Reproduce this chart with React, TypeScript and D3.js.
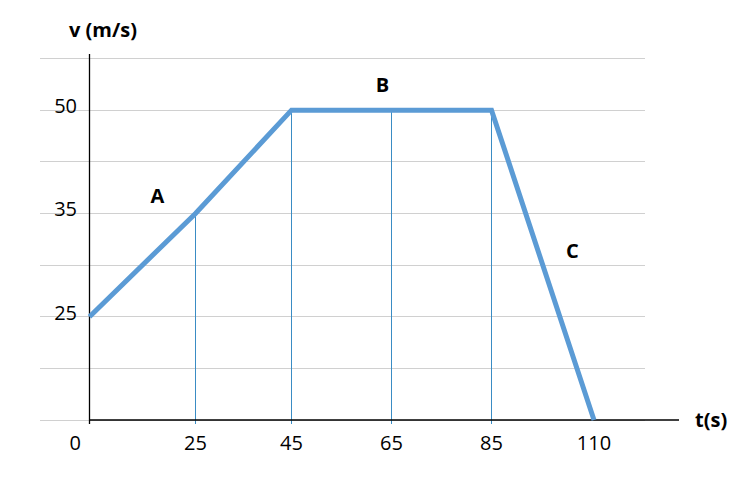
import * as d3 from "d3";

// velocity-time graph, values
const tValues = [0, 25, 45, 85, 110];
const vValues = [25, 35, 50, 50, 0];

const xTicks = [0, 25, 45, 65, 85, 110];
const xTickLabels = ["0", "25", "45", "65", "85", "110"];
const yTicks = [25, 35, 50];
const yTickLabels = ["25", "35", "50"];

// drop lines from the curve down to the t axis
const dropT = [25, 45, 65, 85];
const dropV = [35, 50, 50, 50];

// segment names, placed in data units
const segNames = ["A", "B", "C"];
const segT = [16, 63.2, 104.7];
const segV = [36.5, 52.6, 30.7];

const W = 742;
const H = 487;
const font = "'Open Sans', 'Liberation Sans', sans-serif";

// snap a 1px line onto the pixel grid
const crisp = (v: number) => Math.round(v - 0.5) + 0.5;

export default function App() {
  // the axes are drawn schematic: ticks are spaced evenly, not by value
  const x = d3
    .scaleLinear()
    .domain(xTicks)
    .range([89.5, 195.5, 291.5, 391.5, 491.5, 594]);

  const grid = d3.scaleLinear().domain([0, 7]).range([420, 58.5]);
  const y = d3
    .scaleLinear()
    .domain([0, 25, 35, 50])
    .range([0, 2, 4, 6].map(grid));

  const gridLevels = d3.range(0, 8);

  const points = tValues.map((t, i) => [t, vValues[i]] as [number, number]);
  const line = d3
    .line<[number, number]>()
    .x((d) => x(d[0]))
    .y((d) => y(d[1]));

  const x0 = x(0);
  const y0 = y(0);

  return (
    <div style={{ position: "absolute", left: 0, top: 0 }}>
      <svg width={W} height={H} style={{ display: "block", background: "#fff" }}>
        {/* horizontal grid */}
        {gridLevels.map((l) => (
          <line
            key={l}
            x1={40}
            x2={645}
            y1={crisp(grid(l))}
            y2={crisp(grid(l))}
            stroke="#d0d0d0"
            strokeWidth={1}
          />
        ))}

        {/* drop lines */}
        {dropT.map((t, i) => (
          <line
            key={t}
            x1={crisp(x(t))}
            x2={crisp(x(t))}
            y1={y(dropV[i])}
            y2={y0 + 4}
            stroke="#3a8cc4"
            strokeWidth={1}
          />
        ))}

        {/* axes */}
        <line x1={x0} x2={x0} y1={54} y2={y0 + 4} stroke="#000" strokeWidth={1.3} />
        <line x1={x0} x2={679} y1={y0} y2={y0} stroke="#000" strokeWidth={1.3} />

        {/* velocity curve */}
        <path
          d={line(points) ?? ""}
          fill="none"
          stroke="#5b9bd5"
          strokeWidth={5}
          strokeLinejoin="miter"
        />

        {/* y tick labels */}
        {yTicks.map((v, i) => (
          <text
            key={v}
            x={77}
            y={y(v) + 3}
            textAnchor="end"
            fontFamily={font}
            fontSize={20}
            fill="#000"
          >
            {yTickLabels[i]}
          </text>
        ))}

        {/* x tick labels */}
        {xTicks.map((t, i) => (
          <text
            key={t}
            x={t === 0 ? x0 - 8.5 : x(t)}
            y={450}
            textAnchor={t === 0 ? "end" : "middle"}
            fontFamily={font}
            fontSize={20}
            fill="#000"
          >
            {xTickLabels[i]}
          </text>
        ))}

        {/* segment names */}
        {segNames.map((s, i) => (
          <text
            key={s}
            x={x(segT[i])}
            y={y(segV[i])}
            textAnchor="middle"
            fontFamily={font}
            fontSize={20}
            fontWeight={700}
            fill="#000"
          >
            {s}
          </text>
        ))}

        {/* axis titles */}
        <text x={69} y={37} fontFamily={font} fontSize={20} fontWeight={700} fill="#000">
          v (m/s)
        </text>
        <text x={695} y={427} fontFamily={font} fontSize={20} fontWeight={700} fill="#000">
          t(s)
        </text>
      </svg>
    </div>
  );
}
